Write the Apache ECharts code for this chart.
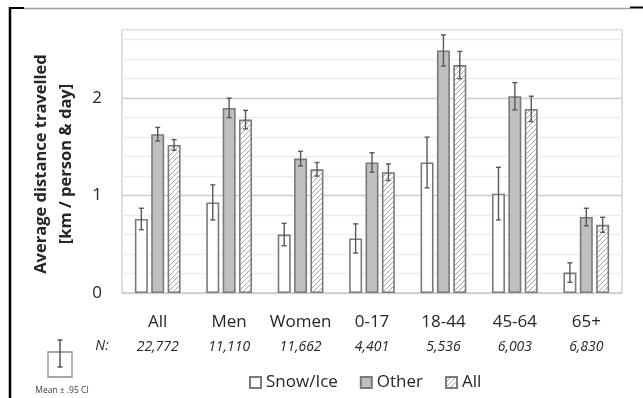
<!DOCTYPE html>
<html>
<head>
<meta charset="utf-8">
<script src="https://cdn.jsdelivr.net/npm/echarts@6/dist/echarts.min.js"></script>
<style>html,body{margin:0;padding:0;background:#fff}#c{width:643px;height:398px}</style>
</head>
<body>
<div id="c"></div>
<script>
const categories = ['All', 'Men', 'Women', '0-17', '18-44', '45-64', '65+'];
const nCounts = ['22,772', '11,110', '11,662', '4,401', '5,536', '6,003', '6,830'];
const seriesNames = ['Snow/Ice', 'Other', 'All'];
const snowIce = [0.76, 0.93, 0.60, 0.56, 1.34, 1.02, 0.21];
const other = [1.63, 1.90, 1.38, 1.34, 2.49, 2.02, 0.78];
const allDays = [1.52, 1.78, 1.27, 1.24, 2.34, 1.89, 0.70];
const snowIceCI = [0.11, 0.18, 0.115, 0.15, 0.26, 0.27, 0.10];
const otherCI = [0.07, 0.10, 0.075, 0.10, 0.16, 0.14, 0.09];
const allDaysCI = [0.055, 0.095, 0.07, 0.085, 0.14, 0.13, 0.077];
const yTicks = [0, 1, 2];

const FONT = 'Open Sans';
const BAR_W = 13;
const GAP_PCT = 0.26;

const pc = document.createElement('canvas');
pc.width = 5; pc.height = 5;
const g = pc.getContext('2d');
g.fillStyle = '#fff'; g.fillRect(0, 0, 5, 5);
g.strokeStyle = '#a8a8a8'; g.lineWidth = 1;
g.beginPath();
g.moveTo(-1, 6); g.lineTo(6, -1);
g.moveTo(-1, 1); g.lineTo(1, -1);
g.moveTo(4, 6); g.lineTo(6, 4);
g.stroke();

const values = [snowIce, other, allDays];
const cis = [snowIceCI, otherCI, allDaysCI];
const fills = ['#ffffff', '#bfbfbf', { image: pc, repeat: 'repeat' }];

const series = [];
values.forEach((vals, i) => {
  series.push({
    name: seriesNames[i],
    type: 'bar',
    data: vals,
    barWidth: BAR_W,
    barGap: (GAP_PCT * 100) + '%',
    itemStyle: { color: fills[i], borderColor: '#7a7a7a', borderWidth: 1.6 },
    emphasis: { disabled: true },
    z: 2
  });
});
values.forEach((vals, i) => {
  series.push({
    type: 'custom',
    name: 'err' + i,
    z: 5,
    silent: true,
    data: vals.map((v, k) => [k, v, cis[i][k]]),
    encode: { x: 0, y: 1 },
    renderItem: function (params, api) {
      const x = api.value(0), m = api.value(1), e = api.value(2);
      const off = (i - 1) * BAR_W * (1 + GAP_PCT);
      const hi = api.coord([x, m + e]);
      const lo = api.coord([x, m - e]);
      const cx = hi[0] + off;
      const st = { stroke: '#595959', lineWidth: 1.4 };
      return {
        type: 'group',
        children: [
          { type: 'line', shape: { x1: cx, y1: hi[1], x2: cx, y2: lo[1] }, style: st },
          { type: 'line', shape: { x1: cx - 2.5, y1: hi[1], x2: cx + 2.5, y2: hi[1] }, style: st },
          { type: 'line', shape: { x1: cx - 2.5, y1: lo[1], x2: cx + 2.5, y2: lo[1] }, style: st }
        ]
      };
    }
  });
});

const chart = echarts.init(document.getElementById('c'), null, { renderer: 'canvas' });
chart.setOption({
  animation: false,
  backgroundColor: '#fff',
  textStyle: { fontFamily: FONT },
  grid: { left: 122, right: 21, top: 30, bottom: 105, show: true, borderColor: '#d4d4d4', borderWidth: 1.5, containLabel: false },
  legend: {
    data: seriesNames,
    left: 244, top: 369,
    icon: 'rect', itemWidth: 11, itemHeight: 11, itemGap: 22,
    textStyle: { fontFamily: FONT, fontSize: 17, color: '#262626' },
    selectedMode: false
  },
  xAxis: {
    type: 'category',
    data: categories,
    axisLine: { show: true, lineStyle: { color: '#d4d4d4', width: 1.5 } },
    axisTick: { show: false },
    axisLabel: {
      interval: 0,
      margin: 17,
      formatter: (v, idx) => '{a|' + v + '}\n{n|' + nCounts[idx] + '}',
      rich: {
        a: { fontFamily: FONT, fontSize: 17, color: '#262626', lineHeight: 24 },
        n: { fontFamily: FONT, fontSize: 14, fontStyle: 'italic', color: '#262626', lineHeight: 26 }
      }
    }
  },
  yAxis: {
    type: 'value',
    min: 0, max: 2.7, interval: 0.2,
    axisLine: { show: false },
    axisTick: { show: false },
    axisLabel: {
      margin: 20,
      fontFamily: FONT, fontSize: 17, color: '#262626',
      formatter: v => {
        const r = Math.round(v);
        return (Math.abs(v - r) < 1e-6 && yTicks.indexOf(r) >= 0) ? String(r) : '';
      }
    },
    splitLine: { show: true, lineStyle: { color: ['#cdcdcd', '#ededed', '#ededed', '#ededed', '#ededed'], width: 1.3 } }
  },
  graphic: [
    { type: 'text', x: 54, y: 164, rotation: Math.PI / 2,
      style: { text: 'Average distance travelled\n[km / person & day]', fontFamily: FONT, fontWeight: 'bold', fontSize: 16.5, lineHeight: 25, fill: '#262626', align: 'center', verticalAlign: 'middle' } },
    { type: 'text', x: 102, y: 346,
      style: { text: 'N:', fontFamily: FONT, fontStyle: 'italic', fontSize: 14, fill: '#262626', align: 'center', verticalAlign: 'middle' } },
    { type: 'rect', shape: { x: 48, y: 352, width: 24, height: 25 }, style: { fill: '#fff', stroke: '#8c8c8c', lineWidth: 1.3 } },
    { type: 'line', shape: { x1: 60, y1: 340, x2: 60, y2: 367 }, style: { stroke: '#404040', lineWidth: 1.3 } },
    { type: 'line', shape: { x1: 57.5, y1: 340, x2: 62.5, y2: 340 }, style: { stroke: '#404040', lineWidth: 1.3 } },
    { type: 'line', shape: { x1: 57.5, y1: 367, x2: 62.5, y2: 367 }, style: { stroke: '#404040', lineWidth: 1.3 } },
    { type: 'text', x: 62, y: 391,
      style: { text: 'Mean ± .95 CI', fontFamily: FONT, fontSize: 8.5, fill: '#404040', align: 'center', verticalAlign: 'middle' } },
    { type: 'line', shape: { x1: 10, y1: 7, x2: 10, y2: 398 }, style: { stroke: '#000', lineWidth: 2.5 } },
    { type: 'line', shape: { x1: 9, y1: 8, x2: 24, y2: 8 }, style: { stroke: '#000', lineWidth: 2 } },
    { type: 'line', shape: { x1: 24, y1: 8.5, x2: 630, y2: 8.5 }, style: { stroke: '#a0a0a0', lineWidth: 1.5 } },
    { type: 'line', shape: { x1: 630, y1: 7.5, x2: 643, y2: 7.5 }, style: { stroke: '#000', lineWidth: 2 } }
  ],
  series: series
});
</script>
</body>
</html>
